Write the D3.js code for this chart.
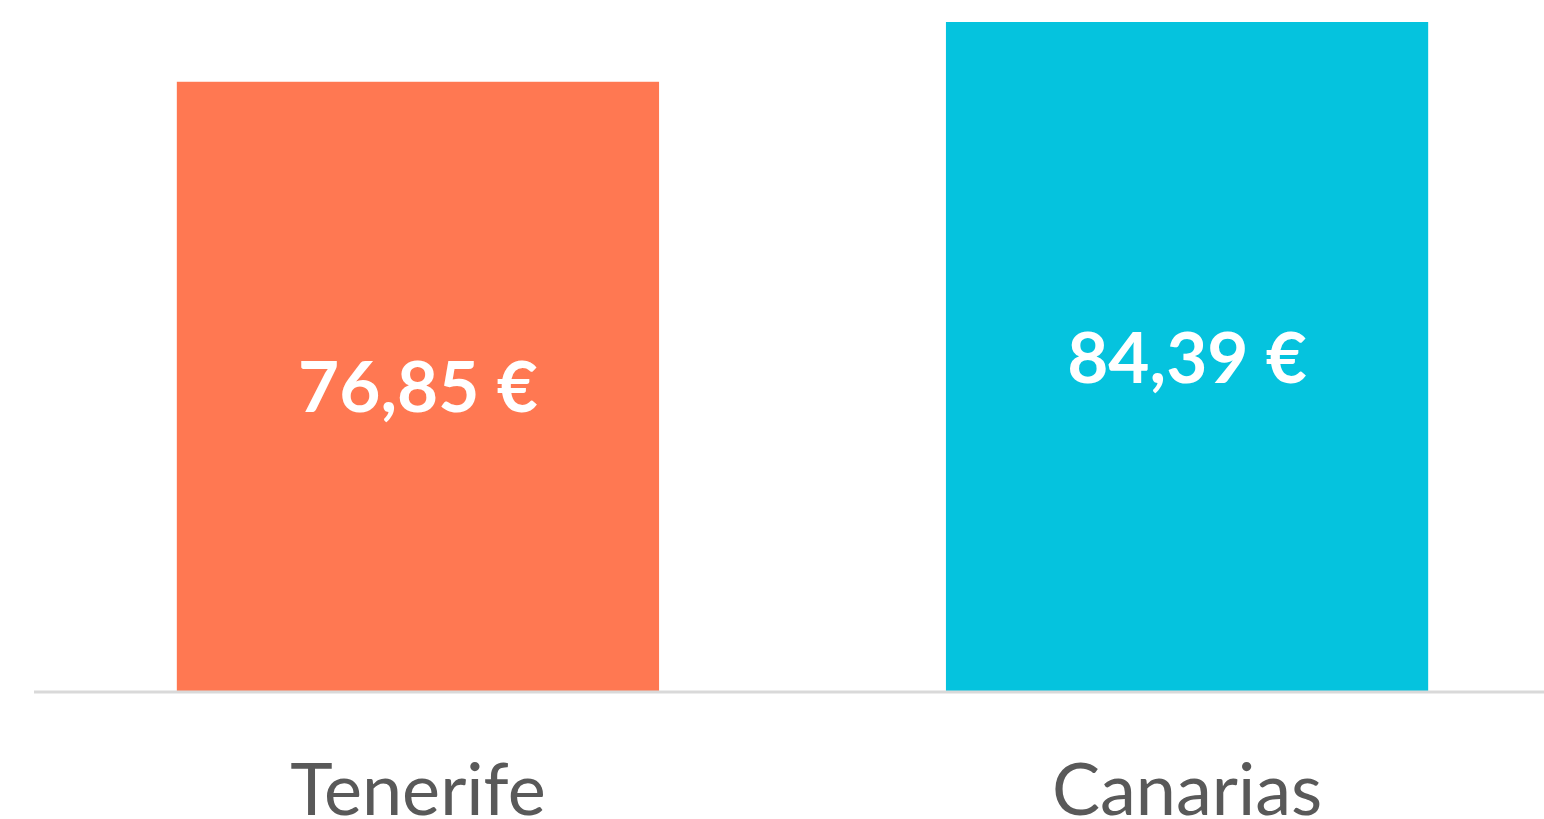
<!DOCTYPE html>
<html lang="es">
<head>
    <meta charset="UTF-8">
    <title>Tenerife vs Canarias</title>
    <script src="https://d3js.org/d3.v7.min.js"></script>
    <style>
        body{
            margin: 0;
            background-color: white;
            overflow: hidden;
        }
        .valueLabel{
            font-family: Lato, "Open Sans", sans-serif;
            font-weight: bold;
            fill: white;
        }
        .catLabel{
            font-family: Lato, "Open Sans", sans-serif;
            fill: #595959;
        }
    </style>
</head>
<body>
<svg id="canvas" width="1544" height="819"></svg>
<script>
    // datos
    let categories = ["Tenerife", "Canarias"];
    let values = [76.85, 84.39];
    let valueLabels = ["76,85 €", "84,39 €"];
    let colors = ["#FF7852", "#05C3DE"];

    let svg = d3.select('#canvas');
    let width = 1544, height = 819;
    let baseY = 691;

    let x = d3.scaleBand()
        .domain(categories)
        .range([23, 1582])
        .paddingInner(0.373)
        .paddingOuter(0.2);

    let y = d3.scaleLinear()
        .domain([0, d3.max(values)])
        .range([baseY, 22]);

    // barras
    svg.append('g')
        .selectAll('rect')
        .data(categories)
        .enter()
        .append('rect')
        .attr('x', d => x(d))
        .attr('width', x.bandwidth())
        .attr('y', (d, i) => y(values[i]))
        .attr('height', (d, i) => baseY - y(values[i]))
        .attr('fill', (d, i) => colors[i]);

    // linea base
    svg.append('line')
        .attr('x1', 34).attr('x2', width)
        .attr('y1', baseY + 1).attr('y2', baseY + 1)
        .attr('stroke', '#d9d9d9')
        .attr('stroke-width', 3);

    // etiquetas de valor
    svg.append('g')
        .selectAll('text')
        .data(categories)
        .enter()
        .append('text')
        .attr('class', 'valueLabel')
        .attr('x', d => x(d) + x.bandwidth() / 2)
        .attr('y', (d, i) => (y(values[i]) + baseY) / 2 + 26)
        .attr('text-anchor', 'middle')
        .style('font-size', '71px')
        .text((d, i) => valueLabels[i]);

    // etiquetas de categoria
    svg.append('g')
        .selectAll('text')
        .data(categories)
        .enter()
        .append('text')
        .attr('class', 'catLabel')
        .attr('x', d => x(d) + x.bandwidth() / 2)
        .attr('y', 815)
        .attr('text-anchor', 'middle')
        .style('font-size', '72px')
        .text(d => d);
</script>
</body>
</html>
